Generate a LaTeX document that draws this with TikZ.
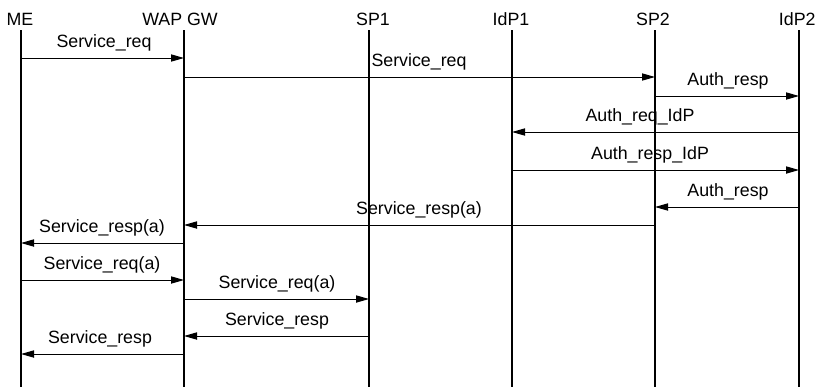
\documentclass[tikz,border=0pt]{standalone}
\usepackage{fontspec}
\setmainfont{Liberation Sans}
\usetikzlibrary{arrows.meta}

\begin{document}
\begin{tikzpicture}[x=0.5pt, y=-0.5pt, font=\fontsize{8.9}{10}\selectfont,
    msg/.style={line width=0.5pt, -{Triangle[length=6.5pt, width=3.6pt]}},
    life/.style={line width=0.6pt}]
  \useasboundingbox (0,0) rectangle (817,387);
  % parties
  \node (me)   at (20,19)  {ME};
  \node (wap)  at (180,19) {WAP GW};
  \node (sp1)  at (373,19) {SP1};
  \node (idp1) at (511,19) {IdP1};
  \node (sp2)  at (653,19) {SP2};
  \node[anchor=east, inner sep=0.5pt] (idp2) at (817,19) {IdP2};
  % lifelines
  \foreach \n/\x in {me/21, wap/184, sp1/369, idp1/512, sp2/655, idp2/799} {
    \coordinate (\n top) at (\x,30);
    \coordinate (\n bot) at (\x,387);
    \draw[life] (\n top) -- (\n bot);
  }
  % messages
  \foreach \a/\b/\y/\lx/\txt in {
      me/wap/58/104/Service\_req,
      wap/sp2/77/419/Service\_req,
      sp2/idp2/96/728/Auth\_resp,
      idp2/idp1/132/640/Auth\_req\_IdP,
      idp1/idp2/170/650/Auth\_resp\_IdP,
      idp2/sp2/207/728/Auth\_resp,
      sp2/wap/225/419/Service\_resp(a),
      wap/me/243/102/Service\_resp(a),
      me/wap/280/102/Service\_req(a),
      wap/sp1/299/277/Service\_req(a),
      sp1/wap/336/277/Service\_resp,
      wap/me/354/100/Service\_resp} {
    \draw[msg] (\a top |- 0,\y) -- (\b top |- 0,\y);
    \node at (\lx,\y-15) {\txt};
  }
\end{tikzpicture}
\end{document}
